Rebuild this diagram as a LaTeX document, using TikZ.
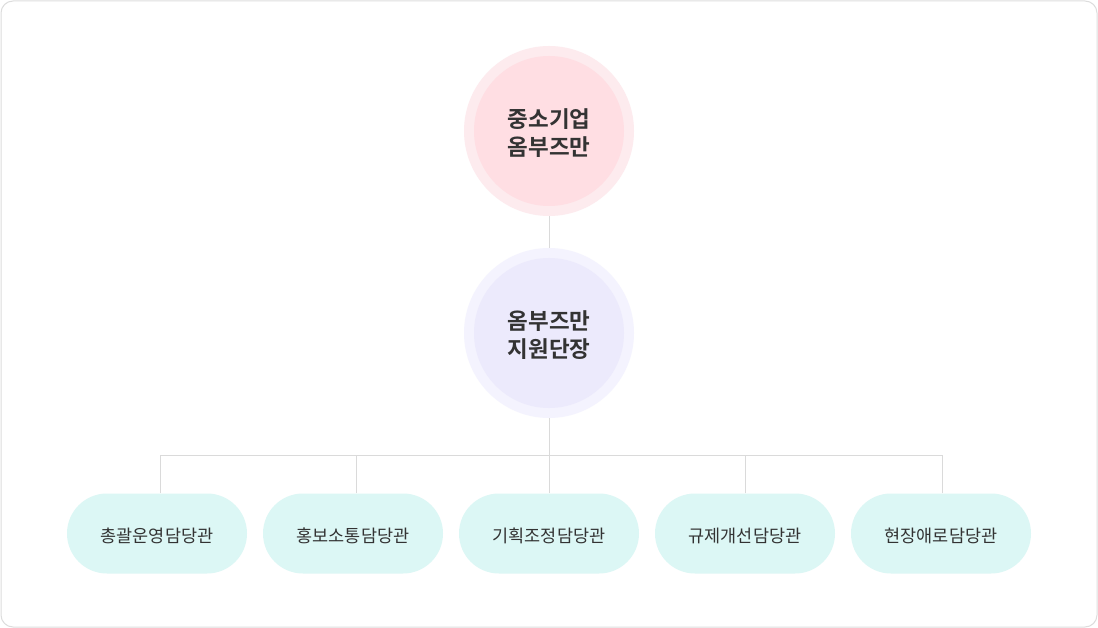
\documentclass[tikz,border=0pt]{standalone}
\usepackage{fontspec}
\newfontfamily\kr{Noto Sans CJK KR}
\newfontfamily\krb{Noto Sans CJK KR Bold}
\definecolor{frame}{HTML}{DDDDDD}
\definecolor{pinkring}{HTML}{FDEBEE}
\definecolor{pinkfill}{HTML}{FFDEE3}
\definecolor{lavring}{HTML}{F4F3FE}
\definecolor{lavfill}{HTML}{ECEAFC}
\definecolor{pillfill}{HTML}{DCF7F5}
\definecolor{txt}{HTML}{333333}
\definecolor{conn}{HTML}{DADADA}
\usetikzlibrary{shapes.misc}
\tikzset{
  ring/.style={circle, minimum size=170pt, inner sep=0pt},
  core/.style={circle, minimum size=150pt, inner sep=0pt},
  ctext/.style={align=center, text=txt, inner sep=0pt,
    font=\krb\fontsize{22.5}{28}\selectfont},
  pill/.style={rounded rectangle, fill=pillfill, minimum width=180pt, minimum height=80pt,
    inner sep=0pt},
  ptext/.style={text=txt, inner sep=0pt, font=\kr\fontsize{17.5}{20}\selectfont},
  link/.style={draw=conn, line width=1pt}
}
\begin{document}
\begin{tikzpicture}[x=1pt,y=-1pt]
\useasboundingbox (0,0) rectangle (1098,628);
\draw[frame, line width=1pt, fill=white, rounded corners=12pt] (1,1) rectangle (1097,627);
% circles
\node[ring, fill=pinkring] (r1) at (549,131) {};
\node[core, fill=pinkfill] (c1) at (549,131) {};
\node[ctext] (t1) at (549,133.5) {중소기업\\옴부즈만};
\node[ring, fill=lavring] (r2) at (549,333) {};
\node[core, fill=lavfill] (c2) at (549,333) {};
\node[ctext] (t2) at (549,335.5) {옴부즈만\\지원단장};
% pills
\node[pill] (p1) at (157,533.5) {};
\node[pill] (p2) at (353,533.5) {};
\node[pill] (p3) at (549,533.5) {};
\node[pill] (p4) at (745,533.5) {};
\node[pill] (p5) at (941,533.5) {};
\node[ptext] (q1) at (157,536) {총괄운영담당관};
\node[ptext] (q2) at (353,536) {홍보소통담당관};
\node[ptext] (q3) at (549,536) {기획조정담당관};
\node[ptext] (q4) at (745,536) {규제개선담당관};
\node[ptext] (q5) at (941,536) {현장애로담당관};
\coordinate (bus) at (549,455);
% connectors
\draw[link] (r1.south) -- (r2.north);
\draw[link] (r2.south) -- (bus);
\draw[link] ([xshift=3pt]p1.north) |- (bus);
\draw[link] ([xshift=3pt]p2.north) |- (bus);
\draw[link] (p3.north) -- (bus);
\draw[link] (p4.north) |- (bus);
\draw[link] ([xshift=1pt]p5.north) |- (bus);
\end{tikzpicture}
\end{document}
